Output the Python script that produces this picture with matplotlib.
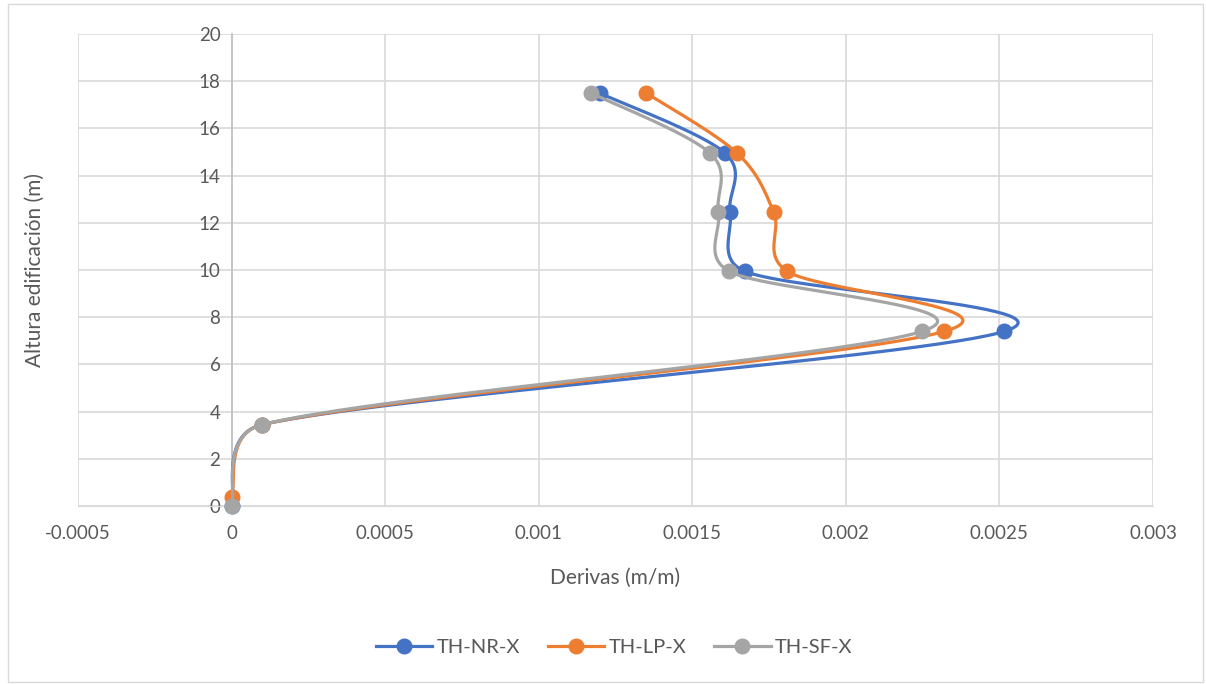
import numpy as np
import matplotlib
matplotlib.use("Agg")
import matplotlib.pyplot as plt
from matplotlib.patches import Rectangle
from matplotlib.ticker import FuncFormatter, MultipleLocator

# Storey drift profiles (drift in m/m vs. building height in m)
height = [0.0, 3.45, 7.4, 9.95, 12.45, 14.95, 17.5]
height_lp = [0.4, 3.45, 7.4, 9.95, 12.45, 14.95, 17.5]
drift_nr = [0.0, 0.0001, 0.002516, 0.00167, 0.001623, 0.001607, 0.001198]
drift_lp = [0.0, 0.0001, 0.002321, 0.001808, 0.001765, 0.001646, 0.001350]
drift_sf = [0.0, 0.0001, 0.002248, 0.001619, 0.001585, 0.001558, 0.001170]

series = [
    ("TH-NR-X", drift_nr, height, "#4472C4"),
    ("TH-LP-X", drift_lp, height_lp, "#ED7D31"),
    ("TH-SF-X", drift_sf, height, "#A5A5A5"),
]

plt.rcParams["font.family"] = ["Lato", "DejaVu Sans"]
text_color = "#595959"
grid_color = "#D9D9D9"

fig = plt.figure(figsize=(12.06, 6.84), dpi=100)
ax = fig.add_axes([78 / 1206, 1 - 506 / 684, (1153 - 78) / 1206, (506 - 34) / 684])
ax.set_xlim(-0.0005, 0.003)
ax.set_ylim(0, 20)

# chart frame
fig.add_artist(Rectangle((8 / 1206, 2 / 684), 1195 / 1206, 678 / 684,
                         transform=fig.transFigure, fill=False,
                         edgecolor=grid_color, linewidth=1.0))


def smooth_curve(xs, ys, n=60):
    """Cardinal Bezier smoothing in screen space; each control arm is
    1/6 of the neighbour chord, capped at half the segment length."""
    pts = ax.transData.transform(np.column_stack([xs, ys]))
    out = []
    m = len(pts)
    for i in range(m - 1):
        p0 = pts[max(i - 1, 0)]
        p1 = pts[i]
        p2 = pts[i + 1]
        p3 = pts[min(i + 2, m - 1)]
        d12 = np.hypot(*(p2 - p1))
        t1 = p2 - p0
        t2 = p3 - p1
        l1 = np.hypot(*t1)
        l2 = np.hypot(*t2)
        f1 = 1 / 6 if l1 / 6 < d12 / 2 else d12 / 2 / l1
        f2 = 1 / 6 if l2 / 6 < d12 / 2 else d12 / 2 / l2
        c1 = p1 + t1 * f1
        c2 = p2 - t2 * f2
        t = np.linspace(0, 1, n)[:, None]
        seg = ((1 - t) ** 3 * p1 + 3 * (1 - t) ** 2 * t * c1
               + 3 * (1 - t) * t ** 2 * c2 + t ** 3 * p2)
        out.append(seg if i == 0 else seg[1:])
    curve = np.vstack(out)
    data = ax.transData.inverted().transform(curve)
    return data[:, 0], data[:, 1]


for z, (name, xs, ys, color) in enumerate(series):
    cx, cy = smooth_curve(xs, ys)
    ax.plot(cx, cy, color=color, linewidth=2.3, zorder=3 + z, solid_capstyle="round")
    ax.plot(xs, ys, linestyle="none", marker="o", markersize=10.5,
            color=color, zorder=3 + z, clip_on=False)
    ax.plot([], [], color=color, linewidth=2.3, marker="o", markersize=10.5, label=name)

ax.xaxis.set_major_locator(MultipleLocator(0.0005))
ax.yaxis.set_major_locator(MultipleLocator(2))
ax.xaxis.set_major_formatter(FuncFormatter(lambda v, p: "%g" % round(v, 6)))
ax.yaxis.set_major_formatter(FuncFormatter(lambda v, p: "%g" % v))
ax.grid(True, color=grid_color, linewidth=1.2)
ax.set_axisbelow(True)

for s in ["top", "right"]:
    ax.spines[s].set_visible(False)
ax.spines["bottom"].set_color(grid_color)
ax.spines["left"].set_position(("data", 0))
ax.spines["left"].set_color("#BFBFBF")
ax.spines["left"].set_linewidth(1.2)
ax.spines["left"].set_zorder(2)

ax.tick_params(axis="both", length=0, labelsize=13.5, colors=text_color)
ax.tick_params(axis="x", pad=14)
ax.tick_params(axis="y", pad=8)

fig.text(615 / 1206, 1 - 578 / 684, "Derivas (m/m)", ha="center", va="center",
         fontsize=15, color=text_color)
fig.text(35 / 1206, 1 - 270 / 684, "Altura edificación (m)", ha="center", va="center",
         rotation=90, fontsize=15, color=text_color)

leg = fig.legend(loc="center", bbox_to_anchor=(614 / 1206, 1 - 647 / 684), ncol=3,
                 frameon=False, fontsize=14.5, handlelength=2.8, columnspacing=1.4,
                 handletextpad=0.2)
for t in leg.get_texts():
    t.set_color(text_color)

fig.savefig("out.png", dpi=100)
